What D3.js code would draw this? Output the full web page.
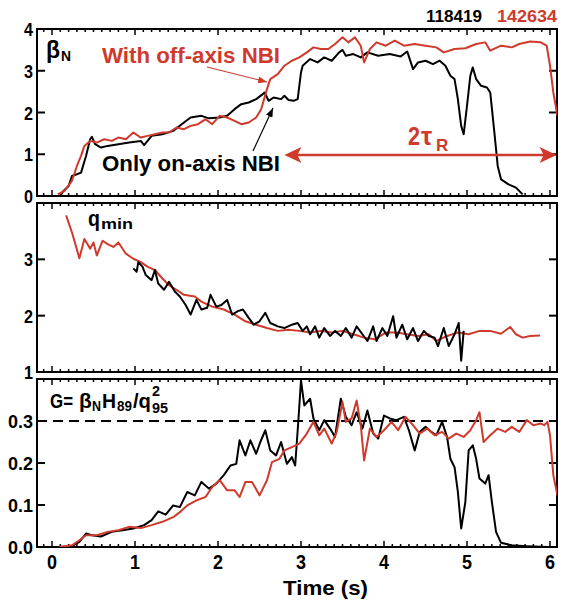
<!DOCTYPE html>
<html>
<head>
<meta charset="utf-8">
<script src="https://cdn.jsdelivr.net/npm/d3@7"></script>
<style>
  body { margin: 0; background: #fff; }
  svg text { font-family: "Liberation Sans", sans-serif; font-weight: bold; }
</style>
</head>
<body>
<script>
// shots
const shotBlack = "118419", shotRed = "142634";
const RED = "#cf3a2c";

// beta_N, shot 118419 (on-axis only)
const betaBlackT = [0.1,0.13,0.2,0.24,0.3,0.35,0.41,0.46,0.48,0.52,0.59,0.67,0.8,0.93,1.07,1.11,1.2,1.33,1.46,1.59,1.67,1.8,1.89,2.02,2.11,2.2,2.28,2.37,2.46,2.54,2.56,2.61,2.67,2.76,2.8,2.85,2.91,2.96,3.0,3.02,3.11,3.2,3.28,3.37,3.46,3.5,3.54,3.63,3.72,3.8,3.93,4.07,4.2,4.28,4.35,4.41,4.5,4.59,4.67,4.74,4.8,4.85,4.89,4.93,4.96,5.0,5.04,5.07,5.11,5.17,5.24,5.28,5.33,5.37,5.41,5.5,5.59,5.67];
const betaBlack = [0,0.1,0.24,0.48,0.52,0.56,0.96,1.36,1.42,1.24,1.16,1.2,1.24,1.28,1.32,1.22,1.44,1.48,1.56,1.76,1.88,1.92,1.86,1.88,1.92,2.08,2.2,2.24,2.32,2.44,2.48,2.28,2.36,2.32,2.4,2.3,2.28,2.32,2.96,3.12,3.28,3.2,3.32,3.24,3.44,3.5,3.36,3.4,3.32,3.44,3.36,3.4,3.34,3.46,3.04,3.2,3.24,3.16,3.24,3.12,2.88,2.8,2.32,1.68,1.48,2.16,2.88,3.08,2.8,2.64,2.6,2.48,1.52,0.72,0.4,0.28,0.2,0.04];

// beta_N, shot 142634 (with off-axis)
const betaRedT = [0.07,0.15,0.24,0.3,0.35,0.39,0.46,0.54,0.63,0.72,0.8,0.89,0.98,1.07,1.15,1.24,1.33,1.41,1.5,1.59,1.67,1.76,1.85,1.93,2.02,2.11,2.2,2.28,2.37,2.46,2.52,2.59,2.63,2.72,2.8,2.89,2.98,3.07,3.15,3.24,3.33,3.41,3.5,3.57,3.65,3.72,3.76,3.83,3.91,4.02,4.13,4.24,4.37,4.5,4.63,4.72,4.85,4.98,5.11,5.22,5.28,5.41,5.54,5.63,5.76,5.89,5.96,6.0,6.04,6.09];
const betaRed = [0.04,0.12,0.36,0.72,0.96,1.2,1.32,1.28,1.36,1.32,1.4,1.36,1.52,1.4,1.44,1.48,1.52,1.52,1.64,1.6,1.68,1.72,1.84,1.72,1.92,1.88,1.8,1.72,1.76,1.88,2.08,2.56,2.8,2.92,3.12,3.24,3.32,3.44,3.56,3.52,3.52,3.64,3.8,3.68,3.8,3.6,3.2,3.52,3.68,3.6,3.72,3.6,3.64,3.6,3.56,3.44,3.52,3.54,3.64,3.68,3.48,3.6,3.56,3.64,3.7,3.68,3.6,3.12,2.48,1.92];

// q_min
const qRedT = [0.17,0.24,0.33,0.39,0.46,0.5,0.54,0.61,0.67,0.74,0.8,0.89,0.98,1.07,1.15,1.24,1.33,1.41,1.5,1.59,1.72,1.8,1.93,2.07,2.2,2.33,2.46,2.59,2.72,2.85,2.98,3.11,3.24,3.37,3.5,3.63,3.76,3.89,4.02,4.15,4.28,4.41,4.54,4.63,4.76,4.89,5.02,5.15,5.28,5.41,5.52,5.59,5.67,5.76,5.88];
const qRed = [3.78,3.48,3.02,3.36,3.19,3.3,3.07,3.33,3.27,3.22,3.3,3.1,3.01,2.95,2.87,2.81,2.66,2.54,2.46,2.37,2.34,2.25,2.16,2.11,2.02,1.9,1.84,1.78,1.73,1.75,1.73,1.7,1.73,1.7,1.73,1.67,1.61,1.58,1.7,1.7,1.67,1.64,1.67,1.55,1.64,1.7,1.67,1.73,1.73,1.68,1.8,1.67,1.61,1.64,1.65];
const qBlackT = [0.98,1.02,1.04,1.09,1.13,1.2,1.24,1.28,1.35,1.41,1.48,1.54,1.61,1.67,1.74,1.8,1.87,1.91,1.98,2.04,2.11,2.17,2.24,2.3,2.37,2.43,2.5,2.57,2.63,2.72,2.8,2.89,2.96,3.02,3.07,3.11,3.17,3.22,3.28,3.35,3.41,3.48,3.54,3.61,3.67,3.74,3.8,3.87,3.91,3.98,4.04,4.11,4.15,4.22,4.28,4.35,4.41,4.48,4.54,4.61,4.65,4.72,4.78,4.85,4.9,4.93,4.96];
const qBlack = [2.84,2.78,2.95,2.87,2.72,2.63,2.81,2.57,2.46,2.6,2.43,2.34,2.19,2.02,2.28,2.11,2.14,2.37,2.16,2.19,2.28,2.02,2.08,2.11,1.96,1.84,1.9,2.05,1.87,1.81,1.78,1.84,1.87,1.73,1.81,1.67,1.81,1.61,1.78,1.64,1.73,1.64,1.78,1.61,1.81,1.67,1.55,1.81,1.55,1.78,1.64,1.99,1.61,1.84,1.58,1.78,1.55,1.73,1.64,1.61,1.46,1.78,1.46,1.67,1.87,1.2,1.73];

// G = beta_N H89 / q95^2
const gBlackT = [0.09,0.24,0.33,0.41,0.48,0.59,0.72,0.85,0.98,1.11,1.2,1.28,1.37,1.46,1.54,1.63,1.72,1.8,1.89,1.98,2.07,2.15,2.22,2.26,2.33,2.39,2.46,2.51,2.57,2.63,2.7,2.76,2.83,2.89,2.93,2.97,3.0,3.04,3.11,3.15,3.22,3.28,3.35,3.41,3.48,3.54,3.61,3.67,3.74,3.8,3.87,3.93,4.0,4.07,4.15,4.24,4.3,4.37,4.43,4.5,4.57,4.63,4.7,4.76,4.8,4.85,4.89,4.93,4.98,5.02,5.07,5.11,5.15,5.22,5.26,5.3,5.35,5.41,5.54,5.72,5.98];
const gBlack = [0,0.002,0.012,0.032,0.028,0.025,0.036,0.04,0.044,0.052,0.064,0.085,0.077,0.099,0.095,0.131,0.123,0.155,0.139,0.151,0.171,0.194,0.198,0.254,0.218,0.254,0.222,0.25,0.278,0.23,0.218,0.25,0.198,0.214,0.194,0.306,0.397,0.337,0.353,0.306,0.278,0.302,0.282,0.262,0.353,0.31,0.29,0.321,0.282,0.325,0.27,0.258,0.313,0.306,0.302,0.31,0.278,0.23,0.274,0.286,0.274,0.266,0.298,0.262,0.21,0.19,0.131,0.044,0.107,0.23,0.242,0.21,0.163,0.151,0.171,0.107,0.036,0.01,0.004,0.002,0];
const gRedT = [0.09,0.24,0.33,0.41,0.54,0.67,0.8,0.93,1.07,1.2,1.33,1.46,1.54,1.63,1.74,1.85,1.93,2.02,2.11,2.2,2.26,2.33,2.41,2.5,2.59,2.65,2.74,2.8,2.89,2.98,3.07,3.15,3.22,3.28,3.37,3.43,3.5,3.54,3.61,3.67,3.72,3.76,3.83,3.91,4.0,4.09,4.17,4.26,4.35,4.43,4.52,4.61,4.7,4.78,4.87,4.96,5.04,5.11,5.15,5.2,5.28,5.37,5.46,5.54,5.63,5.72,5.8,5.89,5.93,5.97,6.0,6.04,6.09];
const gRed = [0,0.004,0.016,0.028,0.028,0.036,0.04,0.048,0.045,0.052,0.06,0.071,0.083,0.099,0.111,0.119,0.143,0.159,0.135,0.135,0.119,0.155,0.155,0.123,0.159,0.202,0.21,0.23,0.238,0.246,0.27,0.298,0.266,0.282,0.246,0.274,0.345,0.298,0.306,0.349,0.29,0.206,0.282,0.262,0.278,0.298,0.278,0.31,0.29,0.27,0.282,0.266,0.274,0.258,0.27,0.262,0.278,0.302,0.321,0.25,0.266,0.282,0.274,0.286,0.274,0.302,0.29,0.294,0.29,0.298,0.266,0.171,0.123];

// axis ticks
const xTicks = [0,1,2,3,4,5,6];
const betaTicks = [0,1,2,3,4];
const qTicks = [1,2,3];
const gTicks = [0,0.1,0.2,0.3];

const W = 563, H = 608;
const svg = d3.select("body").append("svg").attr("width", W).attr("height", H);

const frameL = 37, frameR = 557;
const x = d3.scaleLinear().domain([0, 6]).range([52, 550]);
const xMin = x.invert(frameL), xMax = x.invert(frameR);

// condensed bold text (the reference uses a narrow face)
function label(px, py, str, size, len, color) {
  return svg.append("text").attr("x", px).attr("y", py).attr("font-size", size)
    .attr("fill", color || "#000").attr("textLength", len).attr("lengthAdjust", "spacingAndGlyphs").text(str);
}

function panel(id, top, bottom, domain, ticks, fmt) {
  const y = d3.scaleLinear().domain(domain).range([bottom, top]);
  const g = svg.append("g");
  g.append("clipPath").attr("id", id).append("rect")
    .attr("x", frameL).attr("y", top).attr("width", frameR - frameL).attr("height", bottom - top);

  // minor ticks along top and bottom
  const minor = d3.range(Math.ceil(xMin * 10), Math.floor(xMax * 10) + 1).map(d => d / 10);
  minor.forEach(t => {
    const len = Math.abs(t - Math.round(t)) < 1e-6 ? 6 : 3;
    g.append("line").attr("x1", x(t)).attr("x2", x(t)).attr("y1", bottom).attr("y2", bottom - len)
      .attr("stroke", "#000").attr("stroke-width", 1.5);
    g.append("line").attr("x1", x(t)).attr("x2", x(t)).attr("y1", top).attr("y2", top + len)
      .attr("stroke", "#000").attr("stroke-width", 1.5);
  });
  ticks.forEach(v => {
    g.append("line").attr("x1", frameL).attr("x2", frameL + 8).attr("y1", y(v)).attr("y2", y(v))
      .attr("stroke", "#000").attr("stroke-width", 2);
    g.append("line").attr("x1", frameR).attr("x2", frameR - 8).attr("y1", y(v)).attr("y2", y(v))
      .attr("stroke", "#000").attr("stroke-width", 2);
    const s = fmt(v);
    g.append("text").attr("x", frameL - 4).attr("y", y(v) + 7)
      .attr("text-anchor", "end").attr("font-size", 19)
      .attr("textLength", s.length > 1 ? 25 : 9).attr("lengthAdjust", "spacingAndGlyphs").text(s);
  });
  g.append("rect").attr("x", frameL).attr("y", top).attr("width", frameR - frameL).attr("height", bottom - top)
    .attr("fill", "none").attr("stroke", "#000").attr("stroke-width", 2);
  return {g, y};
}

function series(p, id, ts, vs, color) {
  const line = d3.line().x(d => x(d[0])).y(d => p.y(d[1]));
  p.g.append("path").datum(d3.zip(ts, vs)).attr("d", line)
    .attr("clip-path", `url(#${id})`)
    .attr("fill", "none").attr("stroke", color).attr("stroke-width", 2).attr("stroke-linejoin", "round");
}

// panel 1
const p1 = panel("c1", 29, 196, [0, 4], betaTicks, d3.format("d"));
series(p1, "c1", betaBlackT, betaBlack, "#000");
series(p1, "c1", betaRedT, betaRed, RED);

// panel 2
const p2 = panel("c2", 203, 372, [1, 4], qTicks, d3.format("d"));
series(p2, "c2", qRedT, qRed, RED);
series(p2, "c2", qBlackT, qBlack, "#000");

// panel 3
const p3 = panel("c3", 379, 547, [0, 0.4], gTicks, d3.format(".1f"));
p3.g.append("line").attr("x1", frameL).attr("x2", frameR).attr("y1", p3.y(0.3)).attr("y2", p3.y(0.3))
  .attr("stroke", "#000").attr("stroke-width", 1.8).attr("stroke-dasharray", "10,6");
series(p3, "c3", gBlackT, gBlack, "#000");
series(p3, "c3", gRedT, gRed, RED);

// x tick labels
svg.selectAll(".xl").data(xTicks).enter().append("text")
  .attr("x", d => x(d)).attr("y", 569).attr("text-anchor", "middle").attr("font-size", 20)
  .attr("textLength", 10).attr("lengthAdjust", "spacingAndGlyphs").text(d => d);
label(283, 595, "Time (s)", 21, 85);

// shot numbers
label(426, 22, shotBlack, 17, 56);
label(497, 22, shotRed, 17, 60, RED);

// labels
svg.append("text").attr("x", 46).attr("y", 58).attr("font-size", 23).attr("font-weight", "normal")
  .attr("font-family", "DejaVu Sans").text("β");
label(61, 61, "N", 15, 10);

label(102, 63, "With off-axis NBI", 22, 178, RED);
label(102, 171, "Only on-axis NBI", 22, 178);

const defs = svg.append("defs");
function head(id, color, w, h) {
  defs.append("marker").attr("id", id).attr("viewBox", `0 0 ${w} ${h}`).attr("refX", w).attr("refY", h / 2)
    .attr("markerWidth", w).attr("markerHeight", h).attr("markerUnits", "userSpaceOnUse").attr("orient", "auto")
    .append("path").attr("d", `M0,0L${w},${h / 2}L0,${h}Z`).attr("fill", color);
}
head("ahRed", RED, 9, 7);
head("ahBlack", "#000", 9, 7);

svg.append("line").attr("x1", 207).attr("y1", 67).attr("x2", 267).attr("y2", 82)
  .attr("stroke", RED).attr("stroke-width", 1.2).attr("marker-end", "url(#ahRed)");
svg.append("line").attr("x1", 253).attr("y1", 151).attr("x2", 273).attr("y2", 108)
  .attr("stroke", "#000").attr("stroke-width", 1.2).attr("marker-end", "url(#ahBlack)");

// 2 tau_R span
const tauStart = 2.8, tauEnd = 6.08;
svg.append("line").attr("x1", x(tauStart) + 8).attr("x2", x(tauEnd) - 8).attr("y1", 155).attr("y2", 155)
  .attr("stroke", RED).attr("stroke-width", 2.5);
svg.append("path").attr("d", `M${x(tauStart)},155L${x(tauStart) + 17},147L${x(tauStart) + 13},155L${x(tauStart) + 17},163Z`).attr("fill", RED);
svg.append("path").attr("d", `M${x(tauEnd)},155L${x(tauEnd) - 17},147L${x(tauEnd) - 13},155L${x(tauEnd) - 17},163Z`).attr("fill", RED);
svg.append("text").attr("x", 408).attr("y", 145).attr("fill", RED).attr("font-size", 25)
  .attr("font-weight", "normal").attr("textLength", 12).attr("lengthAdjust", "spacingAndGlyphs").text("2");
svg.append("text").attr("x", 421).attr("y", 145).attr("fill", RED).attr("font-size", 25)
  .attr("font-weight", "normal").attr("font-family", "DejaVu Sans").text("τ");
svg.append("text").attr("x", 436).attr("y", 151).attr("fill", RED).attr("font-size", 17)
  .attr("font-weight", "normal").text("R");

// q_min
label(88, 226, "q", 22, 12);
label(101, 229, "min", 15, 32);

// G label
label(50, 408, "G=", 21, 23);
svg.append("text").attr("x", 79).attr("y", 408).attr("font-size", 21).attr("font-weight", "normal")
  .attr("font-family", "DejaVu Sans").text("β");
label(92, 411, "N", 14, 9);
label(102, 408, "H", 21, 14);
label(117, 411, "89", 14, 15);
label(133, 408, "/q", 21, 18);
label(152, 396, "2", 14, 8);
label(152, 413, "95", 14, 16);
</script>
</body>
</html>
